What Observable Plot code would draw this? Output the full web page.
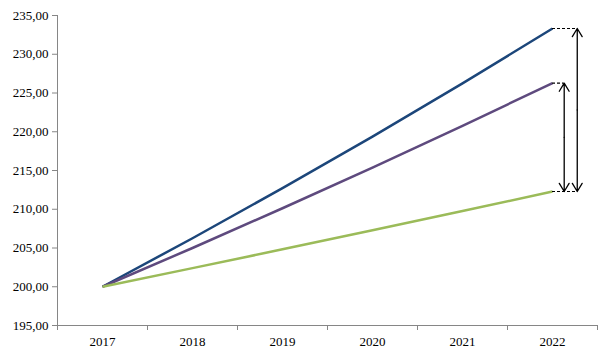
<!DOCTYPE html>
<html>
<head>
<meta charset="utf-8">
<script src="https://cdn.jsdelivr.net/npm/d3@7"></script>
<script src="https://cdn.jsdelivr.net/npm/@observablehq/plot@0.6"></script>
<style>
  html, body { margin: 0; padding: 0; background: #fff; }
  #chart { width: 613px; height: 359px; }
</style>
</head>
<body>
<div id="chart"></div>
<script>
const years = [2017, 2018, 2019, 2020, 2021, 2022];
const blueValues = [200.00, 206.26, 212.72, 219.37, 226.24, 233.32];
const purpleValues = [200.00, 205.00, 210.13, 215.38, 220.76, 226.28];
const greenValues = [200.00, 202.40, 204.83, 207.28, 209.77, 212.29];
const yTicks = [195, 200, 205, 210, 215, 220, 225, 230, 235];

const series = [
  {name: "Serie A", values: blueValues, color: "#1C467A"},
  {name: "Serie B", values: purpleValues, color: "#5E4A7E"},
  {name: "Serie C", values: greenValues, color: "#9BBB59"}
];
const rows = series.flatMap(s => years.map((y, i) => ({year: y, value: s.values[i], name: s.name})));

const last = years.length - 1;
const lastYear = years[last];
const bEnd = blueValues[last], pEnd = purpleValues[last], gEnd = greenValues[last];
const innerX = lastYear + 0.13, outerX = lastYear + 0.275;

const dashes = [
  {x1: lastYear, x2: outerX, y: bEnd},
  {x1: lastYear, x2: innerX, y: pEnd},
  {x1: lastYear, x2: outerX, y: gEnd}
];
const arrowPairs = [
  {x: innerX, lo: gEnd, hi: pEnd},
  {x: outerX, lo: gEnd, hi: bEnd}
];
const arrowHalves = arrowPairs.flatMap(a => {
  const mid = (a.lo + a.hi) / 2;
  return [{x: a.x, y1: mid, y2: a.hi}, {x: a.x, y1: mid, y2: a.lo}];
});
const bounds = d3.range(years.length + 1).map(i => years[0] - 0.5 + i);
const fmt = d => d3.format(".2f")(d).replace(".", ",");

const chart = Plot.plot({
  width: 613,
  height: 359,
  marginLeft: 57,
  marginRight: 16,
  marginTop: 15,
  marginBottom: 34,
  style: {fontFamily: "Liberation Serif, serif", fontSize: "13px", color: "#000", background: "#fff"},
  x: {type: "linear", domain: [years[0] - 0.5, lastYear + 0.5]},
  y: {domain: [195, 235]},
  color: {type: "ordinal", domain: series.map(s => s.name), range: series.map(s => s.color)},
  marks: [
    Plot.ruleX([years[0] - 0.5], {stroke: "#868686", strokeWidth: 1}),
    Plot.ruleY([195], {stroke: "#868686", strokeWidth: 1}),
    Plot.axisY({ticks: yTicks, tickFormat: fmt, tickSize: 5, tickPadding: 4, stroke: "#868686", label: null, fill: "#000"}),
    Plot.axisX({ticks: bounds, tickFormat: () => "", tickSize: 5, stroke: "#868686", label: null}),
    Plot.axisX({ticks: years, tickFormat: d => String(d), tickSize: 0, tickPadding: 11, label: null, fill: "#000"}),
    Plot.line(rows, {x: "year", y: "value", z: "name", stroke: "name", strokeWidth: 2.5, strokeLinecap: "butt"}),
    Plot.ruleY(dashes, {x1: "x1", x2: "x2", y: "y", stroke: "#000", strokeWidth: 1.2, strokeDasharray: "3,2"}),
    Plot.arrow(arrowHalves, {x1: "x", x2: "x", y1: "y1", y2: "y2", stroke: "#000", strokeWidth: 1.3, headLength: 11, headAngle: 62, bend: 0, insetStart: 0, insetEnd: 0})
  ]
});
document.getElementById("chart").appendChild(chart);
</script>
</body>
</html>
